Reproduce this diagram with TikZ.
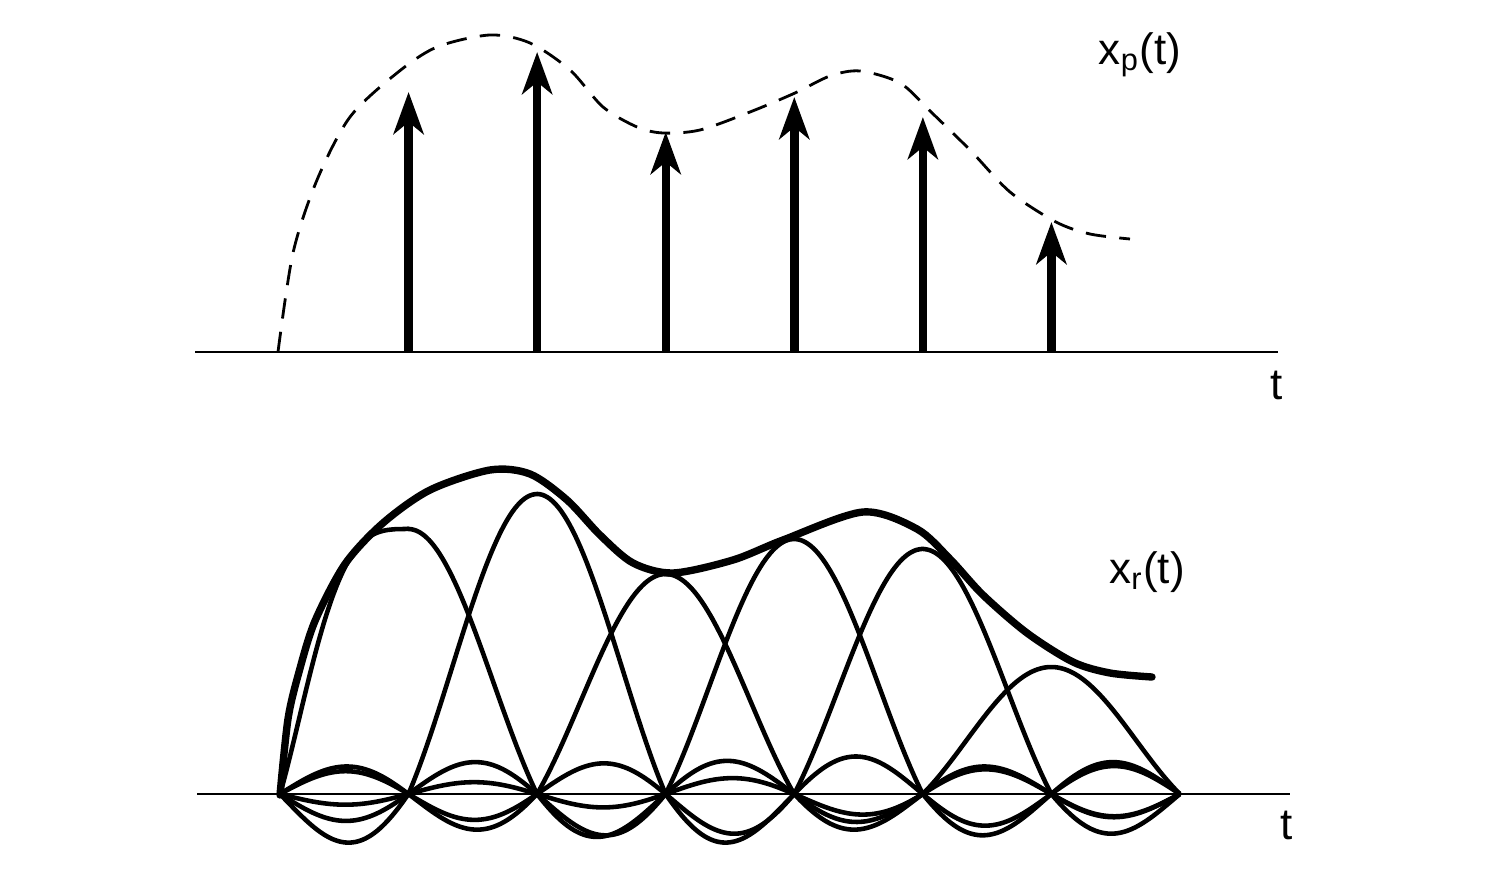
\documentclass[tikz,border=0pt]{standalone}
\usepackage{fontspec}
\setmainfont{Liberation Sans}
\usetikzlibrary{arrows.meta}

\begin{document}
\begin{tikzpicture}[
  axis/.style={line width=0.6pt},
  impulse/.style={line width=2.4pt, -{Stealth[length=4.2mm, width=3mm, inset=1.2mm]}},
  lobe/.style={line width=1.3pt, line join=round},
  envelope/.style={line width=2.1pt, line cap=round},
  guide/.style={line width=0.8pt, dash pattern=on 5.8pt off 3.8pt},
  lbl/.style={font=\fontsize{12.5}{15}\selectfont},
  declare function={intp(\u)=sin(180*(\u+0.001))/(pi*(\u+0.001))*ifthenelse(abs(\u)<1,1,0.62*sqrt(abs(\u)));}
]
\useasboundingbox (0,0) rectangle (15.10,8.89);
% sampled signal
\draw[axis] (1.95,5.37) -- (12.78,5.37);
\node[lbl] (tp) at (12.77,5.04) {t};
\foreach \h [count=\n] in {2.6,3.0,2.2,2.55,2.35,1.3}
  \draw[impulse] ({2.8+1.2857*\n},5.37) -- ++(0,\h);
\draw[guide] plot[smooth] coordinates {(2.78,5.37) (2.93,6.36) (3.17,7.09) (3.50,7.72)
  (3.97,8.16) (4.37,8.42) (4.90,8.54) (5.30,8.46) (5.70,8.19) (6.03,7.82) (6.37,7.62)
  (6.63,7.56) (7.00,7.59) (7.50,7.77) (7.95,7.96) (8.30,8.13) (8.60,8.18) (9.00,8.06)
  (9.30,7.78) (9.70,7.39) (10.10,6.97) (10.56,6.67) (10.90,6.55) (11.30,6.50)};
\node[lbl] (xp) at (11.40,8.34) {x\textsubscript{p}(t)};
% reconstruction
\draw[axis] (1.97,0.95) -- (12.90,0.95);
\node[lbl] (tr) at (12.87,0.64) {t};
\draw[lobe] plot[domain=-1:0, samples=80] ({4.0857+1.2857*\x},{0.95+2.65*intp(pow(abs(\x),1.7))})
  -- plot[domain=4.0857:11.8, samples=300] (\x,{0.95+2.65*intp((\x-4.0857)/1.2857)});
\foreach \h [count=\n from 2] in {3.0,2.2,2.55,2.45,1.27}
  \draw[lobe] plot[domain=2.8:11.8, samples=361] (\x,{0.95+\h*intp((\x-2.8)/1.2857-\n)});
\draw[envelope] plot[smooth] coordinates {(2.80,0.94) (2.88,1.70) (2.99,2.17) (3.15,2.68)
  (3.45,3.25) (3.83,3.66) (4.30,3.99) (4.90,4.19) (5.30,4.15) (5.67,3.89) (6.00,3.54)
  (6.33,3.26) (6.73,3.16) (7.33,3.29) (7.83,3.49) (8.63,3.77) (9.17,3.60) (9.50,3.30)
  (9.83,2.94) (10.27,2.56) (10.73,2.27) (11.10,2.16) (11.52,2.12)};
\node[lbl] (xr) at (11.47,3.17) {x\textsubscript{r}(t)};
\end{tikzpicture}
\end{document}
